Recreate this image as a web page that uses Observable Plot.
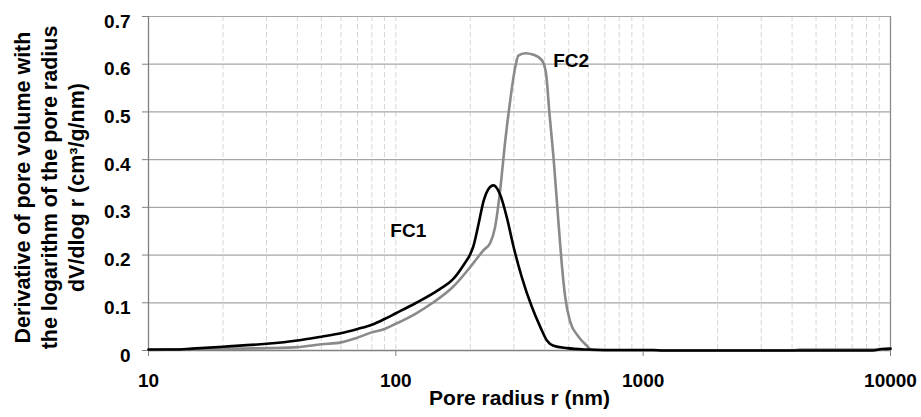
<!DOCTYPE html>
<html><head><meta charset="utf-8">
<script src="https://cdn.jsdelivr.net/npm/d3@7"></script>
<script src="https://cdn.jsdelivr.net/npm/@observablehq/plot@0.6"></script>
<style>
body{margin:0;background:#fff}
#chart svg{font-family:"Liberation Sans",Arial,sans-serif;}
</style>
</head><body><div id="chart"></div>
<script>
// FC1 (black) pore radius (nm) and dV/dlog r
const fc1Radius = [10, 12.8, 15, 20, 30, 40, 50, 60, 70, 80, 90, 100, 120, 150, 170, 190, 200, 206, 216, 226, 236, 248, 264, 281, 299, 323, 355, 384, 408, 434, 492, 592, 700, 1100, 1200, 8500, 9200, 10000];
const fc1Value  = [0.002, 0.002, 0.004, 0.008, 0.014, 0.021, 0.029, 0.036, 0.045, 0.054, 0.066, 0.078, 0.099, 0.128, 0.149, 0.183, 0.202, 0.219, 0.265, 0.312, 0.337, 0.346, 0.327, 0.279, 0.218, 0.154, 0.091, 0.049, 0.021, 0.010, 0.005, 0.002, 0.001, 0.001, 0.000, 0.000, 0.003, 0.004];
// FC2 (grey)
const fc2Radius = [10, 16.2, 30, 40, 50, 60, 70, 80, 90, 100, 120, 142, 170, 200, 210, 226, 241, 252, 264, 277, 290, 304, 313, 334, 360, 390, 405, 418, 434, 455, 469, 484, 507, 548, 592, 620, 700, 4000, 4300, 9000, 10000];
const fc2Value  = [0.001, 0.003, 0.005, 0.007, 0.013, 0.017, 0.027, 0.038, 0.045, 0.056, 0.077, 0.101, 0.133, 0.175, 0.189, 0.210, 0.226, 0.259, 0.335, 0.440, 0.524, 0.594, 0.618, 0.623, 0.620, 0.608, 0.580, 0.496, 0.405, 0.265, 0.180, 0.112, 0.060, 0.029, 0.010, 0.001, 0.000, 0.000, 0.002, 0.002, 0.003];

const xTicks = [10, 100, 1000, 10000];
const xTickLabels = ["10", "100", "1000", "10000"];
const xGridValues = [20, 30, 40, 50, 60, 70, 80, 90, 100, 200, 300, 400, 500, 600, 700, 800, 900, 1000, 2000, 3000, 4000, 5000, 6000, 7000, 8000, 9000];
const yTicks = [0, 0.1, 0.2, 0.3, 0.4, 0.5, 0.6, 0.7];
const yTickLabels = ["0", "0.1", "0.2", "0.3", "0.4", "0.5", "0.6", "0.7"];

const seriesNames = ["FC1", "FC2"];
const labelX = [95, 433];
const labelY = [0.25, 0.607];

const xTitle = "Pore radius r (nm)";
const yTitleLines = ["Derivative of pore volume with", "the logarithm of the pore radius", "dV/dlog r (cm³/g/nm)"];

const fc1 = fc1Radius.map((r, i) => ({r, v: fc1Value[i]}));
const fc2 = fc2Radius.map((r, i) => ({r, v: fc2Value[i]}));
const labels = seriesNames.map((name, i) => ({name, x: labelX[i], y: labelY[i]}));
const yTickData = yTicks.map((v, i) => ({v, label: yTickLabels[i]}));
const xTickData = xTicks.map((v, i) => ({v, label: xTickLabels[i]}));

const font = "'Liberation Sans', Arial, sans-serif";

const chart = Plot.plot({
  width: 921,
  height: 417,
  marginLeft: 148,
  marginRight: 31,
  marginTop: 16,
  marginBottom: 67,
  style: {fontFamily: font, background: "#fff", color: "#000", overflow: "visible"},
  x: {type: "log", domain: [10, 10000]},
  y: {domain: [0, 0.7]},
  marks: [
    Plot.gridX(xGridValues, {stroke: "#d6d6d6", strokeOpacity: 1, strokeDasharray: "5,3", strokeWidth: 1}),
    Plot.gridY(yTicks.slice(1), {stroke: "#a6a6a6", strokeOpacity: 1, strokeWidth: 1.2}),
    Plot.ruleX([10000], {stroke: "#8c8c8c", strokeWidth: 1.3}),
    Plot.axisX(xTicks, {tickSize: 6, stroke: "#808080", tickFormat: () => "", label: null}),
    Plot.axisY(yTicks, {tickSize: 6, stroke: "#808080", tickFormat: () => "", label: null}),
    Plot.text(xTickData, {x: "v", text: "label", frameAnchor: "bottom", dy: 30, lineAnchor: "middle", fontSize: 19, fontWeight: "bold", fill: "#000"}),
    Plot.text(yTickData, {y: "v", text: "label", frameAnchor: "left", dx: -18, dy: 5, textAnchor: "end", lineAnchor: "middle", fontSize: 19, fontWeight: "bold", fill: "#000"}),
    Plot.ruleX([10], {stroke: "#808080", strokeWidth: 1.3}),
    Plot.ruleY([0], {stroke: "#808080", strokeWidth: 1.3}),
    Plot.line(fc2, {x: "r", y: "v", stroke: "#8a8a8a", strokeWidth: 2.6, curve: "monotone-x"}),
    Plot.line(fc1, {x: "r", y: "v", stroke: "#000", strokeWidth: 2.6, curve: "monotone-x"}),
    Plot.text(labels, {x: "x", y: "y", text: "name", textAnchor: "start", lineAnchor: "middle", fontSize: 19, fontWeight: "bold", fill: "#000"}),
    Plot.text([xTitle], {frameAnchor: "bottom", dy: 48, lineAnchor: "middle", fontSize: 21, fontWeight: "bold", fill: "#000"}),
    Plot.text([yTitleLines.join("\n")], {frameAnchor: "left", dx: -100, dy: 4, rotate: -90, textAnchor: "middle", lineAnchor: "middle", lineHeight: 1.26, fontSize: 21.5, fontWeight: "bold", fill: "#000"})
  ]
});
document.getElementById("chart").appendChild(chart);
</script>
</body></html>
